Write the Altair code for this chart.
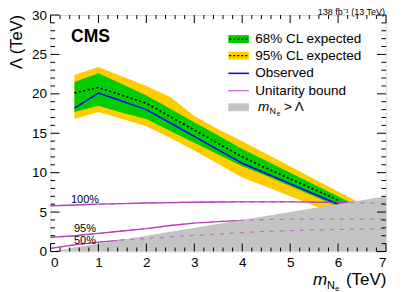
import altair as alt
import pandas as pd

FONT = "Liberation Sans"

# ---------------- data ----------------
line_mass = [0.5, 1, 1.5, 2, 2.5, 3, 3.5, 4, 4.5, 5, 5.5, 6]
observed = [18.2, 20.1, 19.05, 18.0, 16.3, 14.6, 12.9, 11.2, 9.9, 8.6, 7.3, 6.0]
expected = [20.1, 20.8, 19.8, 18.8, 17.1, 15.4, 13.7, 12.0, 10.6, 9.2, 7.9, 6.5]

band_mass = [0.5, 1, 1.5, 2, 2.5, 3, 3.5, 4, 4.5, 5, 5.5, 6, 6.5]
yellow_hi = [22.4, 23.4, 22.2, 21.0, 19.6, 17.2, 15.5, 14.0, 12.4, 10.8, 9.2, 7.6, 6.0]
green_hi = [21.5, 22.6, 21.2, 19.8, 18.1, 16.4, 14.7, 13.0, 11.5, 10.0, 8.5, 7.0, 5.5]
green_lo = [17.7, 18.5, 17.6, 16.8, 15.3, 13.8, 12.3, 10.8, 9.6, 8.3, 7.0, 5.7, 4.5]
yellow_lo = [16.8, 17.7, 16.8, 15.9, 14.4, 12.8, 11.1, 9.4, 8.2, 7.0, 5.8, 4.6, 3.4]

uni_mass = [0, 0.5, 1, 1.5, 2, 2.5, 3, 3.5, 4, 4.5, 5, 5.5, 6, 6.5, 7]
uni_100 = [5.8, 5.9, 6.0, 6.08, 6.15, 6.2, 6.25, 6.28, 6.3, 6.3, 6.3, 6.27, 6.22, 6.17, 6.1]
uni_95 = [1.8, 2.0, 2.3, 2.6, 2.9, 3.3, 3.6, 3.8, 3.95, 4.05, 4.1, 4.1, 4.1, 4.1, 4.1]
uni_50 = [0.4, 0.85, 1.2, 1.45, 1.65, 1.85, 2.05, 2.2, 2.4, 2.55, 2.65, 2.75, 2.8, 2.85, 2.9]
uni_names = ["100%", "95%", "50%"]
uni_label_m = [0.72, 0.72, 0.72]
uni_label_L = [6.55, 2.8, 1.36]

excl_mass = [0, 7]          # region m_N > Lambda
excl_top = [0, 7]

x_major = [0, 1, 2, 3, 4, 5, 6, 7]
x_minor = [0.2, 0.4, 0.6, 0.8, 1.2, 1.4, 1.6, 1.8, 2.2, 2.4, 2.6, 2.8, 3.2, 3.4, 3.6, 3.8,
           4.2, 4.4, 4.6, 4.8, 5.2, 5.4, 5.6, 5.8, 6.2, 6.4, 6.6, 6.8]
y_major = [0, 5, 10, 15, 20, 25, 30]
y_minor = [1, 2, 3, 4, 6, 7, 8, 9, 11, 12, 13, 14, 16, 17, 18, 19, 21, 22, 23, 24, 26, 27, 28, 29]

legend_labels = ["68% CL expected", "95% CL expected", "Observed", "Unitarity bound", ""]
legend_rows = [26.95, 24.85, 22.6, 20.4, 18.3]

# ---------------- layout ----------------
W, H = 335.5, 236.5

band = pd.DataFrame({"m": band_mass, "yl": yellow_lo, "yh": yellow_hi, "gl": green_lo, "gh": green_hi})
lines = pd.DataFrame({"m": line_mass, "obs": observed, "exp": expected})
uni = pd.DataFrame({
    "m": uni_mass * 3,
    "L": uni_100 + uni_95 + uni_50,
    "s": ["100%"] * len(uni_mass) + ["95%"] * len(uni_mass) + ["50%"] * len(uni_mass),
})
uni_lab = pd.DataFrame({"m": uni_label_m, "L": uni_label_L, "t": uni_names})
excl = pd.DataFrame({"m": excl_mass, "L": excl_top, "b": [0, 0]})

xsc = alt.Scale(domain=[0, 7], nice=False, zero=False)
ysc = alt.Scale(domain=[0, 30], nice=False, zero=False)

xaxis = alt.Axis(values=x_major, ticks=False, domain=False, grid=False, labelFont=FONT,
                 labelFontSize=13.5, labelColor="black", labelPadding=4, format="d", title=None)
yaxis = alt.Axis(values=y_major, ticks=False, domain=False, grid=False, labelFont=FONT,
                 labelFontSize=13.5, labelColor="black", labelPadding=4, format="d", title=None)

X = lambda f="m": alt.X(f"{f}:Q", scale=xsc, axis=xaxis, title=None)
Y = lambda f: alt.Y(f"{f}:Q", scale=ysc, axis=yaxis, title=None)

yellow = alt.Chart(band).mark_area(color="#ffcc00", opacity=1).encode(x=X(), y=Y("yl"), y2="yh:Q")
green = alt.Chart(band).mark_area(color="#00cc00", opacity=1).encode(x=X(), y=Y("gl"), y2="gh:Q")

uni_solid = alt.Chart(uni).mark_line(color="#b040b8", strokeWidth=1.3).encode(
    x=X(), y=Y("L"), detail="s:N")
exp_line = alt.Chart(lines).mark_line(color="black", strokeWidth=1.6, strokeDash=[2, 2.5]).encode(
    x=X(), y=Y("exp"))
obs_line = alt.Chart(lines).mark_line(color="#0000ff", strokeWidth=1.5).encode(x=X(), y=Y("obs"))

excl_area = alt.Chart(excl).mark_area(color="#c4c4c4", opacity=1).encode(x=X(), y=Y("L"), y2="b:Q")
uni_dash = alt.Chart(uni).mark_line(color="#b040b8", strokeWidth=1.2, strokeDash=[4, 6], opacity=0.6).encode(
    x=X(), y=Y("L"), detail="s:N")

uni_text = alt.Chart(uni_lab).mark_text(font=FONT, fontSize=11, color="black", align="center",
                                        baseline="middle").encode(x=X(), y=Y("L"), text="t:N")

# ticks (inside, on all four sides)
def vticks(vals, length, bottom=True):
    df = pd.DataFrame({"m": vals})
    y0 = H if bottom else 0
    y1 = H - length if bottom else length
    return alt.Chart(df).mark_rule(color="black", strokeWidth=1).encode(
        x=X(), y=alt.value(y0), y2=alt.value(y1))

def hticks(vals, length, left=True):
    df = pd.DataFrame({"L": vals})
    x0 = 0 if left else W
    x1 = length if left else W - length
    return alt.Chart(df).mark_rule(color="black", strokeWidth=1).encode(
        y=Y("L"), x=alt.value(x0), x2=alt.value(x1))

ticks = [vticks(x_major, 8, True), vticks(x_minor, 4, True), vticks(x_major, 8, False), vticks(x_minor, 4, False),
         hticks(y_major, 9, True), hticks(y_minor, 4.5, True), hticks(y_major, 9, False), hticks(y_minor, 4.5, False)]

# legend
sw_x0, sw_x1, txt_x = 3.71, 4.14, 4.27
leg_box = pd.DataFrame({"x0": [sw_x0] * 3, "x1": [sw_x1] * 3,
                        "y0": [legend_rows[0] - 0.5, legend_rows[1] - 0.5, legend_rows[4] - 0.5],
                        "y1": [legend_rows[0] + 0.5, legend_rows[1] + 0.5, legend_rows[4] + 0.5],
                        "c": ["#00cc00", "#ffcc00", "#c4c4c4"]})
leg_boxes = alt.Chart(leg_box).mark_rect().encode(
    x=X("x0"), x2="x1:Q", y=Y("y0"), y2="y1:Q", color=alt.Color("c:N", scale=None))
leg_dot = pd.DataFrame({"x0": [sw_x0 + 0.02] * 2, "x1": [sw_x1 - 0.02] * 2, "y": legend_rows[:2]})
leg_dots = alt.Chart(leg_dot).mark_rule(color="black", strokeWidth=1.3, strokeDash=[2, 2]).encode(
    x=X("x0"), x2="x1:Q", y=Y("y"))
leg_obs = alt.Chart(pd.DataFrame({"x0": [sw_x0], "x1": [sw_x1], "y": [legend_rows[2]]})).mark_rule(
    color="#0000ff", strokeWidth=1.5).encode(x=X("x0"), x2="x1:Q", y=Y("y"))
leg_uni = alt.Chart(pd.DataFrame({"x0": [sw_x0], "x1": [sw_x1], "y": [legend_rows[3]]})).mark_rule(
    color="#c070c8", strokeWidth=1.3).encode(x=X("x0"), x2="x1:Q", y=Y("y"))
leg_txt = alt.Chart(pd.DataFrame({"x": [txt_x] * 4, "y": legend_rows[:4], "t": legend_labels[:4]})).mark_text(
    font=FONT, fontSize=13.5, align="left", baseline="middle", color="black").encode(
    x=X("x"), y=Y("y"), text="t:N")
# "m_Ne > Lambda" legend entry
leg_m = alt.Chart(pd.DataFrame({"x": [txt_x + 0.06], "y": [legend_rows[4]], "t": ["m"]})).mark_text(
    font=FONT, fontSize=13.5, fontStyle="italic", align="left", baseline="middle").encode(
    x=X("x"), y=Y("y"), text="t:N")
leg_N = alt.Chart(pd.DataFrame({"x": [txt_x + 0.3], "y": [legend_rows[4]], "t": ["N"]})).mark_text(
    font=FONT, fontSize=9, align="left", baseline="middle", dy=4).encode(x=X("x"), y=Y("y"), text="t:N")
leg_e = alt.Chart(pd.DataFrame({"x": [txt_x + 0.45], "y": [legend_rows[4]], "t": ["e"]})).mark_text(
    font=FONT, fontSize=6.5, align="left", baseline="middle", dy=6.5).encode(x=X("x"), y=Y("y"), text="t:N")
leg_gt = alt.Chart(pd.DataFrame({"x": [txt_x + 0.6], "y": [legend_rows[4]], "t": ["> Λ"]})).mark_text(
    font=FONT, fontSize=13.5, align="left", baseline="middle").encode(x=X("x"), y=Y("y"), text="t:N")

cms = alt.Chart(pd.DataFrame({"x": [0.43], "y": [27.25], "t": ["CMS"]})).mark_text(
    font=FONT, fontSize=17.5, fontWeight="bold", align="left", baseline="middle").encode(
    x=X("x"), y=Y("y"), text="t:N")

def ptext(t, x, y, size, **kw):
    return alt.Chart(pd.DataFrame({"t": [t]})).mark_text(font=FONT, fontSize=size, color="black", **kw).encode(
        x=alt.value(x), y=alt.value(y), text="t:N")

lumi = ptext("138 fb⁻¹ (13 TeV)", W - 1, -0.4, 9, align="right", baseline="alphabetic")
ytitle = ptext("Λ (TeV)", -34, 27, 16.5, align="center", baseline="middle", angle=270)
xt_m = ptext("m", 262.5, 270, 17, align="left", baseline="alphabetic", fontStyle="italic")
xt_N = ptext("N", 276.5, 273.5, 11, align="left", baseline="alphabetic")
xt_e = ptext("e", 284.5, 275.5, 8, align="left", baseline="alphabetic")
xt_tev = ptext("(TeV)", 336, 270, 17, align="right", baseline="alphabetic")

chart = alt.layer(
    yellow, green, uni_solid, exp_line, obs_line, excl_area, uni_dash, uni_text,
    *ticks,
    leg_boxes, leg_dots, leg_obs, leg_uni, leg_txt, leg_m, leg_N, leg_e, leg_gt,
    cms, lumi, ytitle, xt_m, xt_N, xt_e, xt_tev,
).properties(
    width=W, height=H,
    autosize=alt.AutoSizeParams(type="none"),
    padding={"left": 42.5, "top": 7, "right": 13, "bottom": 40},
).configure_view(stroke="black", strokeWidth=1).configure(background="white")

chart.save("out.html", embed_options={"renderer": "svg", "actions": False})
